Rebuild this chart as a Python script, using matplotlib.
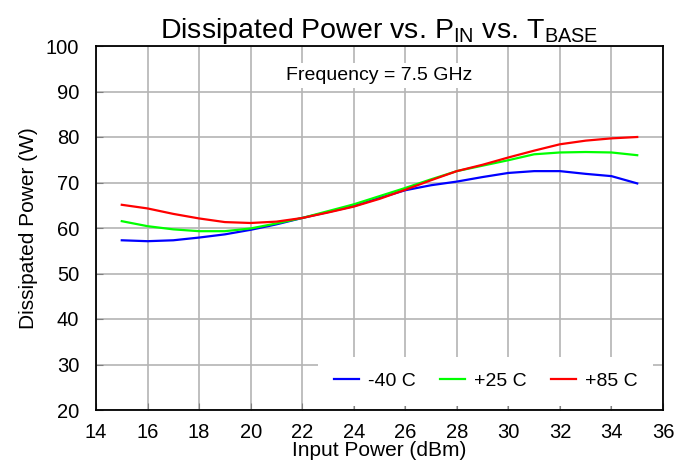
import matplotlib.pyplot as plt
import numpy as np

plt.rcParams['font.family'] = ['Liberation Sans', 'DejaVu Sans']
plt.rcParams['mathtext.fontset'] = 'custom'
plt.rcParams['mathtext.rm'] = 'Liberation Sans'

pin = [15, 16, 17, 18, 19, 20, 21, 22, 23, 24, 25, 26, 27, 28, 29, 30, 31, 32, 33, 34, 35]
p_m40 = [57.3, 57.1, 57.3, 57.9, 58.6, 59.6, 60.8, 62.2, 63.5, 64.8, 66.6, 68.3, 69.4, 70.2, 71.2, 72.1, 72.5, 72.5, 71.9, 71.4, 69.8]
p_25 = [61.5, 60.4, 59.7, 59.3, 59.3, 59.9, 61.0, 62.2, 63.7, 65.2, 67.0, 68.8, 70.7, 72.5, 73.7, 74.9, 76.2, 76.6, 76.7, 76.6, 76.0]
p_85 = [65.1, 64.3, 63.1, 62.1, 61.3, 61.1, 61.4, 62.2, 63.4, 64.7, 66.4, 68.4, 70.5, 72.5, 73.9, 75.5, 77.0, 78.4, 79.2, 79.7, 80.0]
labels = ['-40 C', '+25 C', '+85 C']
colors = ['#0000ff', '#00ff00', '#ff0000']

fig = plt.figure(figsize=(6.88, 4.70), dpi=100)
ax = fig.add_axes([96/688, 60/470, 567/688, 364/470])

for y, lab, c in zip([p_m40, p_25, p_85], labels, colors):
    ax.plot(pin, y, color=c, lw=1.6, label=lab)

ax.set_xlim(14, 36)
ax.set_ylim(20, 100)
ax.set_xticks(np.arange(14, 37, 2))
ax.set_yticks(np.arange(20, 101, 10))
ax.grid(True, color='#b4b4b4', lw=1.2)
ax.set_axisbelow(True)
ax.tick_params(direction='in', labelsize=14.5, length=5, color='#808080')
ax.tick_params(axis='y', pad=12)
ax.tick_params(axis='x', pad=9)
for s in ax.spines.values():
    s.set_linewidth(1.3)

ax.set_xlabel('Input Power (dBm)', fontsize=15, labelpad=0)
ax.set_ylabel('Dissipated Power (W)', fontsize=15, labelpad=6)
ax.set_title(r'Dissipated Power vs. P$_{\mathrm{IN}}$ vs. T$_{\mathrm{BASE}}$', fontsize=20.5, pad=5)

ax.text(0.5, 0.92, 'Frequency = 7.5 GHz', transform=ax.transAxes, ha='center', va='center',
        fontsize=14, bbox=dict(facecolor='white', edgecolor='none', pad=3))

leg = ax.legend(loc='lower right', ncol=3, fontsize=14, frameon=True, fancybox=False,
                edgecolor='none', framealpha=1, handlelength=1.3, columnspacing=1.25,
                handletextpad=0.45, borderpad=0.8, bbox_to_anchor=(1.0, -0.015))

fig.savefig('out.png', dpi=100)
